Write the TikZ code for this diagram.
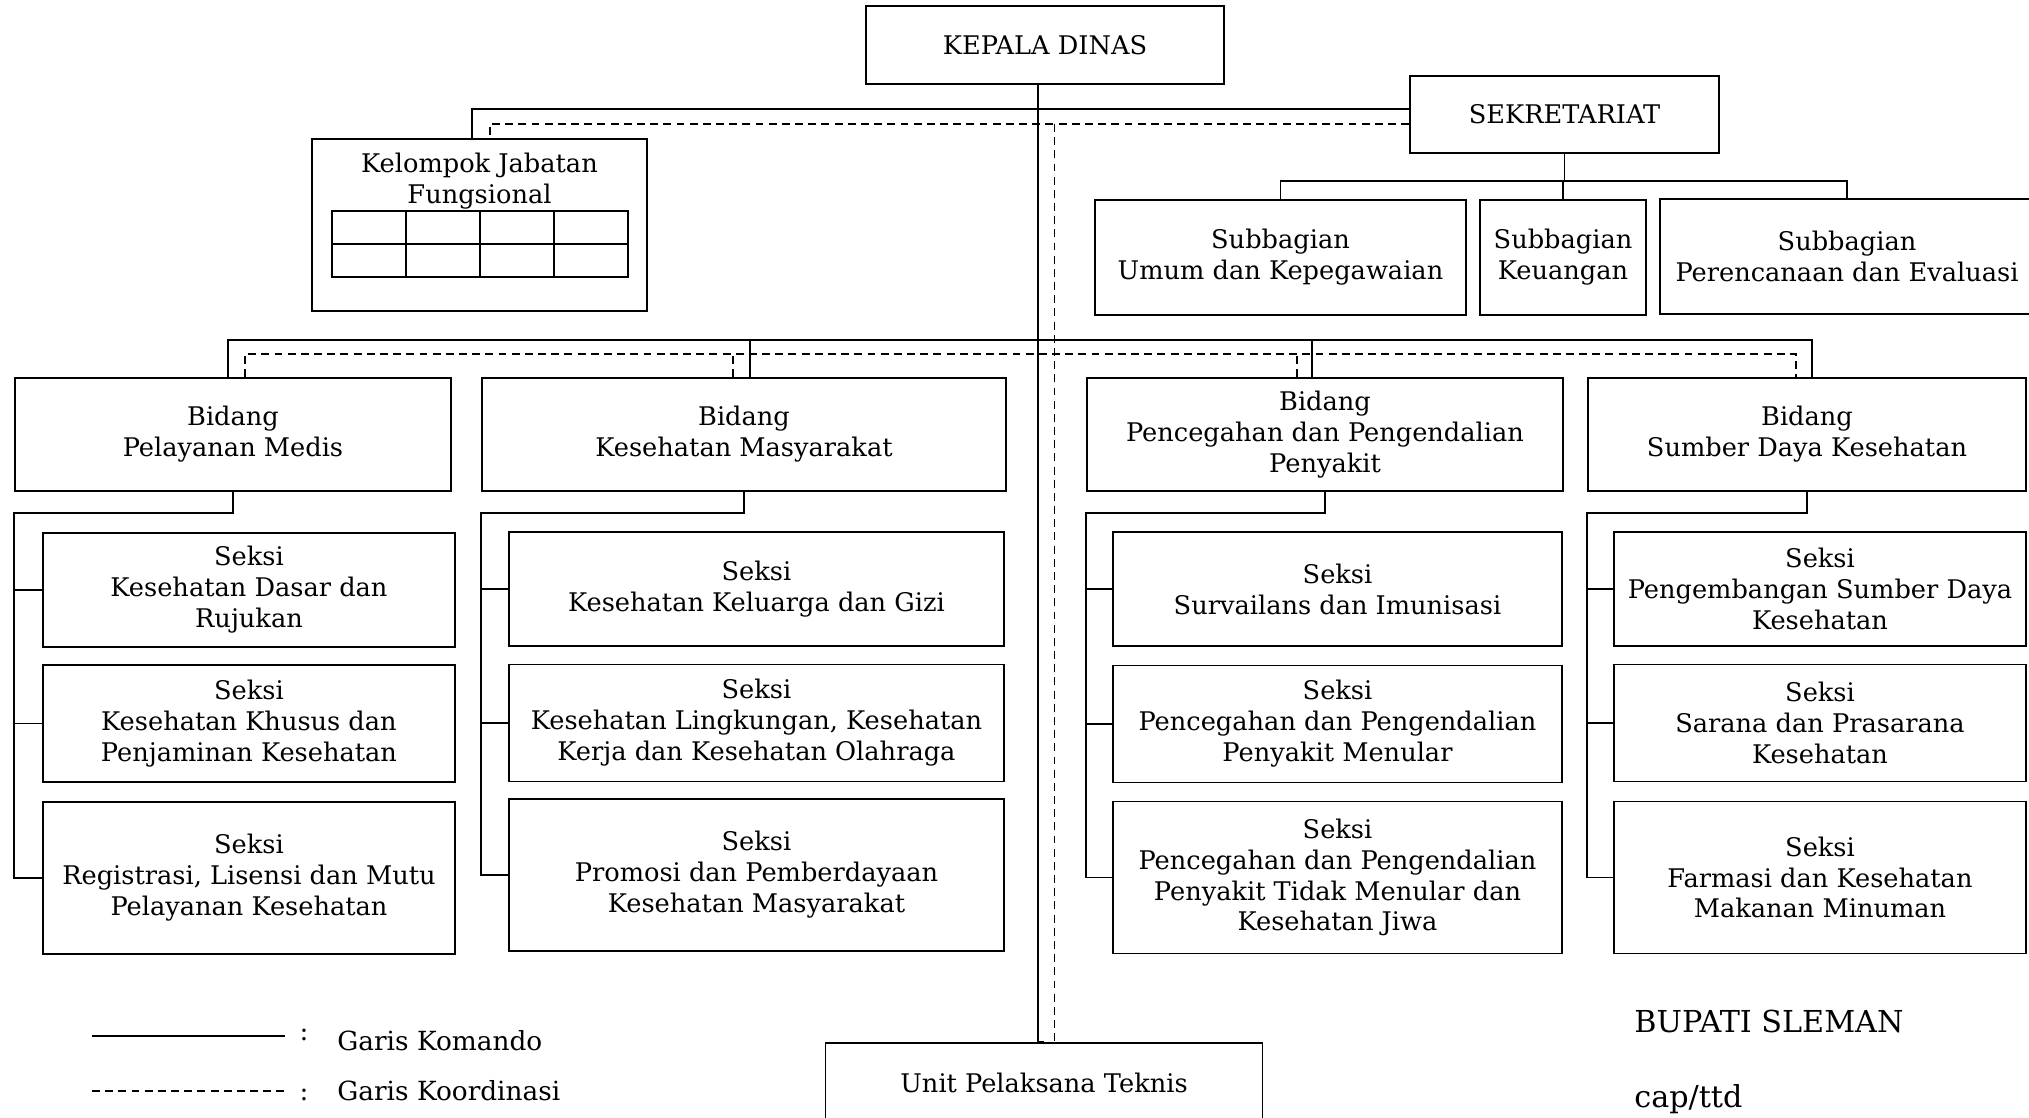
\documentclass[tikz,border=0pt]{standalone}
\usepackage{fontspec}
\setmainfont{DejaVu Serif}
\usetikzlibrary{positioning,calc}
\newcommand\orgfont{\fontsize{14.6}{17.6}\selectfont}
\newcommand\legfont{\fontsize{15}{18}\selectfont}
\newcommand\bigorgfont{\fontsize{17.2}{20}\selectfont}

\begin{document}
\begin{tikzpicture}[
  x=0.02cm, y=-0.02cm,
  box/.style={draw, line width=1pt, inner sep=0pt, align=center, font=\orgfont},
  bidang/.style={box, minimum height=2.26cm},
  seksi/.style={box, minimum width=#1},
  row1/.style={minimum height=2.28cm},
  row2/.style={minimum height=2.34cm},
  row3/.style={minimum height=3.04cm},
  komando/.style={line width=1pt},
  koordinasi/.style={line width=0.9pt, dash pattern=on 4.5pt off 3pt}
]
  \useasboundingbox (0,0) rectangle (2029,1118);

  % pimpinan, sekretariat, jabatan fungsional
  \node[box, minimum width=7.16cm, minimum height=1.56cm] (kadin) at (1045,45) {KEPALA DINAS};
  \node[box, minimum width=6.18cm, minimum height=1.54cm] (sekr) at (1564.5,114.5) {SEKRETARIAT};
  \node[box, minimum width=6.7cm, minimum height=3.44cm] (kjf) at (479.5,225) {};
  \node[font=\orgfont, align=center, inner sep=0pt, below=0.3cm of kjf.north] (kjft) {Kelompok Jabatan\\Fungsional};
  \draw[line width=1.2pt] (332,211) rectangle (628,277);
  \draw[line width=1.2pt] (332,244) -- (628,244);
  \foreach \c in {1,2,3}
    \draw[line width=1.2pt] (332+74*\c,211) -- ++(0,66);

  \node[box, minimum width=7.42cm, minimum height=2.3cm] (sub1) at (1280.5,257.5) {Subbagian\\Umum dan Kepegawaian};
  \node[box, minimum width=3.32cm, minimum height=2.3cm] (sub2) at (1563,257.5) {Subbagian\\Keuangan};
  \node[box, minimum width=7.48cm, minimum height=2.3cm] (sub3) at (1847,256.5) {Subbagian\\Perencanaan dan Evaluasi};

  % bidang
  \node[bidang, minimum width=8.72cm]  (bpm)  at (233,434.5)  {Bidang\\Pelayanan Medis};
  \node[bidang, minimum width=10.48cm] (bkm)  at (744,434.5)  {Bidang\\Kesehatan Masyarakat};
  \node[bidang, minimum width=9.52cm]  (bp2p) at (1325,434.5) {Bidang\\Pencegahan dan Pengendalian\\Penyakit};
  \node[bidang, minimum width=8.76cm]  (bsdk) at (1807,434.5) {Bidang\\Sumber Daya Kesehatan};

  % seksi
  \node[seksi=8.24cm, row1] (s11) at (249,590)    {Seksi\\Kesehatan Dasar dan\\Rujukan};
  \node[seksi=8.24cm, row2] (s12) at (249,723.5)  {Seksi\\Kesehatan Khusus dan\\Penjaminan Kesehatan};
  \node[seksi=8.24cm, row3] (s13) at (249,878)    {Seksi\\Registrasi, Lisensi dan Mutu\\Pelayanan Kesehatan};
  \node[seksi=9.9cm, row1]  (s21) at (756.5,589)  {Seksi\\Kesehatan Keluarga dan Gizi};
  \node[seksi=9.9cm, row2]  (s22) at (756.5,723)  {Seksi\\Kesehatan Lingkungan, Kesehatan\\Kerja dan Kesehatan Olahraga};
  \node[seksi=9.9cm, row3]  (s23) at (756.5,875)  {Seksi\\Promosi dan Pemberdayaan\\Kesehatan Masyarakat};
  \node[seksi=8.98cm, row1] (s31) at (1337.5,589) {Seksi\\Survailans dan Imunisasi};
  \node[seksi=8.98cm, row2] (s32) at (1337.5,724) {Seksi\\Pencegahan dan Pengendalian\\Penyakit Menular};
  \node[seksi=8.98cm, row3] (s33) at (1337.5,877.5) {Seksi\\Pencegahan dan Pengendalian\\Penyakit Tidak Menular dan\\Kesehatan Jiwa};
  \node[seksi=8.24cm, row1] (s41) at (1820,589)   {Seksi\\Pengembangan Sumber Daya\\Kesehatan};
  \node[seksi=8.24cm, row2] (s42) at (1820,723)   {Seksi\\Sarana dan Prasarana\\Kesehatan};
  \node[seksi=8.24cm, row3] (s43) at (1820,877.5) {Seksi\\Farmasi dan Kesehatan\\Makanan Minuman};

  \node[box, minimum width=8.74cm, minimum height=1.6cm] (upt) at (1044,1083) {Unit Pelaksana Teknis};

  % garis komando
  \draw[komando] ([xshift=-0.14cm]kadin.south) |- (upt.north);
  \draw[komando] ([yshift=0.11cm]sekr.west) -| ([xshift=-0.15cm]kjf.north);
  \draw[komando] (sekr.south) -- ++(0,27) coordinate (sb);
  \foreach \n in {sub1,sub2,sub3}
    \draw[komando] (\n.north) |- (sb);
  \coordinate (kb) at (1038,340);
  \foreach \n/\dx in {bpm/-0.1, bkm/0.12, bp2p/-0.26, bsdk/0.1}
    \draw[komando] ([xshift=\dx cm]\n.north) |- (kb);
  \foreach \b/\s in {bpm/1, bkm/2, bp2p/3, bsdk/4} {
    \draw[komando] (\b.south) -- ++(0,21) -| (s\s3.west -| \b.west) -- (s\s3.west);
    \foreach \k in {1,2}
      \draw[komando] (s\s\k.west -| \b.west) -- (s\s\k.west);
  }

  % garis koordinasi
  \draw[koordinasi] ([yshift=-0.19cm]sekr.west) -| ([xshift=0.21cm]kjf.north);
  \coordinate (dtop) at (1054.5,124);
  \draw[koordinasi] (dtop) -- (dtop |- upt.north);
  \coordinate (db) at (1054.5,354);
  \draw[koordinasi] ([xshift=0.24cm]bpm.north) |- (db) -| ([xshift=-0.22cm]bsdk.north);
  \draw[koordinasi] ([xshift=-0.22cm]bkm.north) -- ++(0,-25);
  \draw[koordinasi] ([xshift=-0.56cm]bp2p.north) -- ++(0,-24);

  % keterangan
  \draw[komando] (92,1036) -- ++(193,0);
  \node[font=\legfont, anchor=base] (col1) at (304,1040) {:};
  \node[font=\legfont, anchor=base west, inner sep=0pt] (lkom) at (337,1050) {Garis Komando};
  \draw[koordinasi] (92,1091) -- ++(192,0);
  \node[font=\legfont, anchor=base] (col2) at (304,1100) {:};
  \node[font=\legfont, anchor=base west, inner sep=0pt] (lkoor) at (337,1100) {Garis Koordinasi};

  \node[font=\bigorgfont, anchor=base west, inner sep=0pt] (bupati) at (1634,1032) {BUPATI SLEMAN};
  \node[font=\bigorgfont, anchor=base west, inner sep=0pt] (ttd) at (1634,1107) {cap/ttd};
\end{tikzpicture}
\end{document}
